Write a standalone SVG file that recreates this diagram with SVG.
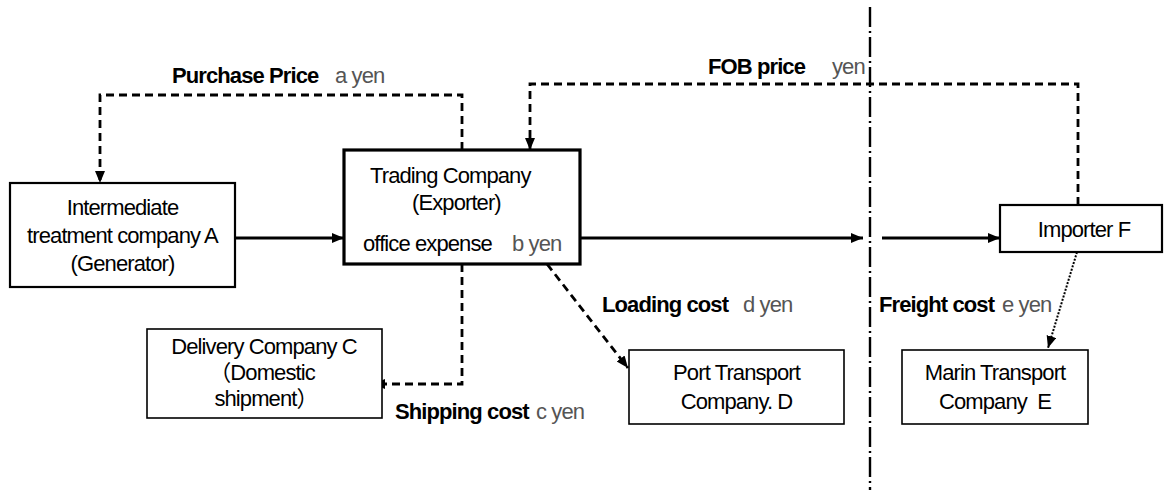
<svg xmlns="http://www.w3.org/2000/svg" width="1164" height="490" viewBox="0 0 1164 490">
  <style>
    text { font-family: "Liberation Sans", Arial, sans-serif; font-size: 22px; letter-spacing: -0.9px; fill: #000; }
    .b { font-weight: bold; }
    .g { fill: #555; }
    .cjk { font-family: "Liberation Sans", "Noto Sans CJK JP", sans-serif; }
    .box { fill: #fff; stroke: #000; stroke-width: 1.6; }
    .thick { stroke-width: 3.2; }
    .mid { stroke-width: 2.2; }
    .solid { fill: none; stroke: #000; stroke-width: 3; }
    .dash { fill: none; stroke: #000; stroke-width: 2.8; stroke-dasharray: 8 5; }
    .dot { fill: none; stroke: #000; stroke-width: 2; stroke-dasharray: 2 1.5; }
    .border { fill: none; stroke: #000; stroke-width: 2.4; stroke-dasharray: 20 4 2 4; }
  </style>
  <defs>
    <marker id="arrow" markerUnits="userSpaceOnUse" markerWidth="14" markerHeight="12" refX="12" refY="5" orient="auto">
      <path d="M0,0 L12,5 L0,10 z" fill="#000"/>
    </marker>
  </defs>

  <!-- national border (dash-dot) -->
  <line class="border" x1="870" y1="7" x2="870" y2="490"/>

  <!-- connectors -->
  <g id="connectors">
    <line class="solid" x1="235" y1="238" x2="344" y2="238" marker-end="url(#arrow)"/>
    <line class="solid" x1="580" y1="238" x2="863" y2="238" marker-end="url(#arrow)"/>
    <line class="solid" x1="882" y1="238" x2="1000" y2="238" marker-end="url(#arrow)"/>
    <path class="dash" d="M462,150 V95 H100 V183" marker-end="url(#arrow)"/>
    <path class="dash" d="M1078,205 V84 H530 V150" marker-end="url(#arrow)"/>
    <path class="dash" d="M462,264 V384 H373" marker-end="url(#arrow)"/>
    <path class="dash" d="M547,264 L628,368" marker-end="url(#arrow)"/>
    <path class="dot" d="M1077,252 L1048,348" marker-end="url(#arrow)"/>
  </g>

  <!-- connector labels -->
  <g id="labels">
    <text x="172" y="83"><tspan class="b">Purchase Price</tspan><tspan class="g" x="335">a yen</tspan></text>
    <text x="708" y="74"><tspan class="b">FOB price</tspan><tspan class="g" x="832">yen</tspan></text>
    <text x="602" y="312"><tspan class="b">Loading cost</tspan><tspan class="g" x="743">d yen</tspan></text>
    <text x="879" y="312"><tspan class="b">Freight cost</tspan><tspan class="g" x="1002">e yen</tspan></text>
    <text x="395" y="419"><tspan class="b">Shipping cost</tspan><tspan class="g" x="536">c yen</tspan></text>
  </g>

  <g id="nodeA">
    <rect class="box mid" x="10" y="183" width="225" height="104"/>
    <text x="122.5" y="215" text-anchor="middle">Intermediate</text>
    <text x="122.5" y="243" text-anchor="middle">treatment company A</text>
    <text x="122.5" y="271" text-anchor="middle">(Generator)</text>
  </g>

  <g id="nodeB">
    <rect class="box thick" x="344" y="150" width="236" height="114"/>
    <text x="370" y="183">Trading Company</text>
    <text x="412" y="210">(Exporter)</text>
    <text x="363" y="251">office expense<tspan class="g" x="512">b yen</tspan></text>
  </g>

  <g id="nodeC">
    <rect class="box" x="147" y="329" width="235" height="89"/>
    <text x="264" y="354" text-anchor="middle">Delivery Company C</text>
    <text class="cjk" x="262" y="380" text-anchor="middle">（Domestic</text>
    <text class="cjk" x="266" y="406" text-anchor="middle">shipment）</text>
  </g>

  <g id="nodeD">
    <rect class="box" x="629" y="350" width="215" height="74"/>
    <text x="736.5" y="380" text-anchor="middle">Port Transport</text>
    <text x="736.5" y="409" text-anchor="middle">Company. D</text>
  </g>

  <g id="nodeE">
    <rect class="box" x="902" y="350" width="186" height="74"/>
    <text x="995" y="380" text-anchor="middle">Marin Transport</text>
    <text x="995" y="409" text-anchor="middle">Company&#160;&#160;E</text>
  </g>

  <g id="nodeF">
    <rect class="box mid" x="1000" y="205" width="162" height="47"/>
    <text x="1084" y="237" text-anchor="middle">Importer F</text>
  </g>
</svg>
